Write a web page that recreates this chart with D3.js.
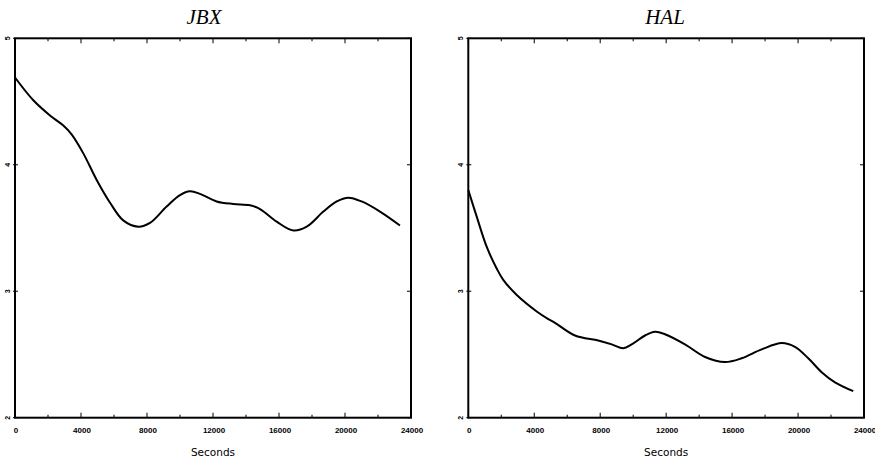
<!DOCTYPE html>
<html><head><meta charset="utf-8">
<script src="https://cdn.jsdelivr.net/npm/d3@7"></script>
<style>body{margin:0;background:#fff}svg{display:block}</style>
</head><body>
<svg id="c" width="875" height="462"></svg>
<script>
const panelTitles = ["JBX", "HAL"];
const xLabel = "Seconds";
const xTicksMajor = [0, 4000, 8000, 12000, 16000, 20000, 24000];
const xTicksMinor = [2000, 6000, 10000, 14000, 18000, 22000];
const yTicks = [2, 3, 4, 5];
const jbxTime = [0,1110,2120,2930,3430,4140,4950,5760,6560,7470,8180,9190,10000,10600,11210,12220,13230,14240,14850,15860,16870,17680,18690,19500,20200,21010,22120,23330];
const jbxValue = [4.69,4.51,4.39,4.31,4.24,4.09,3.88,3.70,3.56,3.51,3.54,3.67,3.76,3.79,3.77,3.71,3.69,3.68,3.65,3.55,3.48,3.51,3.63,3.71,3.74,3.71,3.63,3.52];
const halTime = [0,510,1120,1720,2120,2940,4150,4850,5260,6470,7880,8700,9400,9910,10720,11320,11930,13140,14360,15570,16580,17790,19010,19810,20620,21430,22240,23350];
const halValue = [3.80,3.59,3.35,3.18,3.09,2.97,2.84,2.78,2.75,2.65,2.61,2.58,2.55,2.58,2.65,2.68,2.66,2.58,2.48,2.44,2.47,2.54,2.59,2.56,2.47,2.36,2.28,2.21];

const series = [
  {t: jbxTime, v: jbxValue},
  {t: halTime, v: halValue}
];
const panels = [
  {x0: 15, x1: 411, titleX: 204},
  {x0: 468.3, x1: 864, titleX: 665}
];
const plotTop = 38.3, plotBottom = 417.7;
const svg = d3.select("#c");

panels.forEach((p, i) => {
  const x = d3.scaleLinear().domain([0, 24000]).range([p.x0, p.x1]);
  const y = d3.scaleLinear().domain([2, 5]).range([plotBottom, plotTop]);
  const g = svg.append("g");

  g.append("text").attr("x", p.titleX).attr("y", 24)
    .attr("text-anchor", "middle")
    .attr("font-family", "Liberation Serif, Times New Roman, serif")
    .attr("font-style", "italic").attr("font-size", 21).text(panelTitles[i]);

  const tk = g.append("g").attr("stroke", "#000").attr("stroke-width", 1);
  xTicksMajor.forEach(t => {
    tk.append("line").attr("x1", x(t)).attr("x2", x(t)).attr("y1", plotBottom).attr("y2", plotBottom - 5);
    tk.append("line").attr("x1", x(t)).attr("x2", x(t)).attr("y1", plotTop).attr("y2", plotTop + 5);
  });
  xTicksMinor.forEach(t => {
    tk.append("line").attr("x1", x(t)).attr("x2", x(t)).attr("y1", plotBottom).attr("y2", plotBottom - 3);
    tk.append("line").attr("x1", x(t)).attr("x2", x(t)).attr("y1", plotTop).attr("y2", plotTop + 3);
  });
  yTicks.forEach(v => {
    tk.append("line").attr("x1", p.x0 - 2).attr("x2", p.x0 + 3).attr("y1", y(v)).attr("y2", y(v));
    tk.append("line").attr("x1", p.x1).attr("x2", p.x1 - 4).attr("y1", y(v)).attr("y2", y(v));
  });

  g.append("rect").attr("x", p.x0).attr("y", plotTop).attr("width", p.x1 - p.x0).attr("height", plotBottom - plotTop)
    .attr("fill", "none").attr("stroke", "#000").attr("stroke-width", 2);

  xTicksMajor.forEach(t => {
    g.append("text").attr("x", x(t) + 1).attr("y", 433)
      .attr("text-anchor", "middle").attr("font-family", "Liberation Sans, Arial, sans-serif")
      .attr("font-size", 8).attr("font-weight", "bold").text(t);
  });
  yTicks.forEach(v => {
    g.append("text").attr("transform", `translate(${p.x0 - 5},${y(v)}) rotate(-90)`)
      .attr("text-anchor", "middle").attr("font-family", "Liberation Sans, Arial, sans-serif")
      .attr("font-size", 7).attr("font-weight", "bold").text(v);
  });

  g.append("text").attr("x", (p.x0 + p.x1) / 2).attr("y", 456)
    .attr("text-anchor", "middle").attr("font-family", "DejaVu Sans, sans-serif")
    .attr("font-size", 10.5).text(xLabel);

  const d = series[i].t.map((t, k) => [t, series[i].v[k]]);
  const line = d3.line().x(e => x(e[0])).y(e => y(e[1])).curve(d3.curveCatmullRom.alpha(0.5));
  g.append("path").attr("d", line(d)).attr("fill", "none")
    .attr("stroke", "#000").attr("stroke-width", 2);
});
</script>
</body></html>
